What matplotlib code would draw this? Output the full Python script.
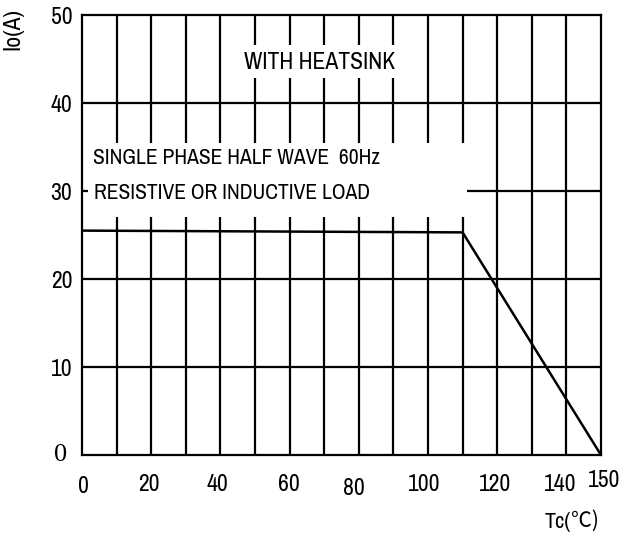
import matplotlib
matplotlib.use('Agg')
import matplotlib.pyplot as plt
import matplotlib.transforms as mtransforms
from matplotlib import font_manager
from matplotlib.patches import Rectangle

# look for a narrow sans face; fall back to Liberation Sans at a smaller size
narrow = None
for f in font_manager.fontManager.ttflist:
    n = f.name.lower()
    if ('narrow' in n or 'condensed' in n) and 'mono' not in n and 'serif' not in n:
        narrow = f.name
        break
if narrow:
    BODY = [narrow, 'DejaVu Sans']
    scale = 1.0
else:
    BODY = ['Liberation Sans', 'DejaVu Sans']
    scale = 0.85
plt.rcParams['font.family'] = BODY

# derating curve
tc = [0, 110, 150]
io = [25.5, 25.3, 0]

xticks = [0, 20, 40, 60, 80, 100, 120, 140, 150]
yticks = [10, 20, 30, 40, 50]
xgrid = [10, 20, 30, 40, 50, 60, 70, 80, 90, 100, 110, 120, 130, 140]
ygrid = [10, 20, 30, 40]

fig = plt.figure(figsize=(6.24, 5.37), dpi=100)
ax = fig.add_axes([0.1314, 0.1527, 0.8317, 0.8193])

for x in xgrid:
    ax.axvline(x, color='black', lw=1.6, zorder=1)
for y in ygrid:
    ax.axhline(y, color='black', lw=1.6, zorder=1)

ax.plot(tc, io, color='black', lw=1.8, zorder=2)

# white boxes that hide the grid behind the notes
ax.add_patch(Rectangle((44.2, 42.8), 47.7, 3.8, facecolor='white', edgecolor='none', zorder=3))
ax.add_patch(Rectangle((1.7, 27.0), 109.6, 8.5, facecolor='white', edgecolor='none', zorder=3))

fs_note = 15.5 * scale
ax.text(68.8, 44.6, 'WITH HEATSINK', ha='center', va='center', fontsize=17 * scale, zorder=4)
ax.text(3.2, 33.7, 'SINGLE PHASE HALF WAVE  60Hz', ha='left', va='center', fontsize=fs_note, zorder=4)
ax.text(3.6, 29.8, 'RESISTIVE OR INDUCTIVE LOAD', ha='left', va='center', fontsize=fs_note, zorder=4)

ax.set_xlim(0, 150)
ax.set_ylim(0, 50)
ax.set_xticks(xticks)
ax.set_xticklabels([str(v) for v in xticks], fontsize=17 * scale)
ax.set_yticks(yticks)
ax.set_yticklabels([str(v) for v in yticks], fontsize=17 * scale)
ax.tick_params(axis='x', length=0, pad=14)
ax.tick_params(axis='y', length=0, pad=7)

# the zero on the y axis is set in a serif face
ax.annotate('0', xy=(0, 0), xycoords='data', xytext=(-11, 0), textcoords='offset points',
            ha='right', va='center', fontsize=19, family='Liberation Serif')

# small shifts of the tick labels (points)
xshift = [(0.7, -1.4), (-1.4, 0), (-2.2, 0), (-0.7, 0), (-3.6, -2.9), (-2.9, 0), (-1.4, 0), (-4.3, 0), (2.2, 2.9)]
for lab, (dx, dy) in zip(ax.get_xticklabels(), xshift):
    lab.set_transform(lab.get_transform() + mtransforms.ScaledTranslation(dx / 72, dy / 72, fig.dpi_scale_trans))

for s in ax.spines.values():
    s.set_linewidth(1.6)

fig.text(0.021, 0.985, 'Io(A)', rotation=90, ha='center', va='top', fontsize=17 * scale)
fig.text(0.915, 0.009, 'Tc(', ha='right', va='bottom', fontsize=16 * scale)
fig.text(0.915, 0.009, '℃)', ha='left', va='bottom', fontsize=15 * scale,
         family=['Noto Sans CJK SC', 'DejaVu Sans'], fontweight='light')

fig.savefig('out.png', dpi=100)
